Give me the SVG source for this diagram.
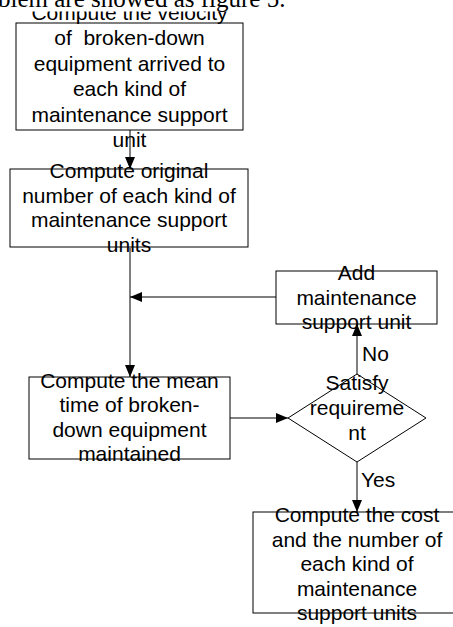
<svg xmlns="http://www.w3.org/2000/svg" width="453" height="627" viewBox="0 0 453 627">
  <style>
    .box { fill: none; stroke: #000; stroke-width: 1; }
    .lbl { font-family: "Liberation Sans", Arial, sans-serif; font-size: 21px; fill: #000; text-anchor: middle; }
    .tag { font-family: "Liberation Sans", Arial, sans-serif; font-size: 21px; fill: #000; }
    .wire { fill: none; stroke: #000; stroke-width: 1; }
    .body { font-family: "Liberation Serif", "Times New Roman", serif; font-size: 25px; fill: #000; }
  </style>
  <defs>
    <marker id="head" markerUnits="userSpaceOnUse" markerWidth="12" markerHeight="10" refX="12" refY="5" orient="auto">
      <path d="M0,0 L12,5 L0,10 z" fill="#000"/>
    </marker>
  </defs>
  <rect width="453" height="627" fill="#fff"/>

  <!-- connectors -->
  <g id="connectors">
    <line class="wire" x1="130" y1="130" x2="130" y2="169" marker-end="url(#head)"/>
    <line class="wire" x1="130" y1="248" x2="130" y2="377" marker-end="url(#head)"/>
    <line class="wire" x1="276" y1="297" x2="130" y2="297" marker-end="url(#head)"/>
    <line class="wire" x1="230" y1="418" x2="288" y2="418" marker-end="url(#head)"/>
    <line class="wire" x1="357" y1="374" x2="357" y2="324" marker-end="url(#head)"/>
    <line class="wire" x1="357" y1="462" x2="357" y2="512" marker-end="url(#head)"/>
    <text class="tag" x="362" y="361">No</text>
    <text class="tag" x="361" y="487">Yes</text>
  </g>

  <g id="velocity">
    <rect class="box" x="16" y="23" width="227" height="107"/>
    <text class="lbl" x="129.5" y="19.5">Compute the velocity</text>
    <text class="lbl" x="129.5" y="45" style="white-space:pre">of  broken-down</text>
    <text class="lbl" x="129.5" y="70.5">equipment arrived to</text>
    <text class="lbl" x="129.5" y="96">each kind of</text>
    <text class="lbl" x="129.5" y="121.5">maintenance support</text>
    <text class="lbl" x="129.5" y="147">unit</text>
  </g>

  <g id="original">
    <rect class="box" x="10" y="169" width="238" height="78"/>
    <text class="lbl" x="129" y="178">Compute original</text>
    <text class="lbl" x="129" y="202.5">number of each kind of</text>
    <text class="lbl" x="129" y="227">maintenance support</text>
    <text class="lbl" x="129" y="251.5">units</text>
  </g>

  <g id="mean-time">
    <rect class="box" x="29" y="377" width="201" height="82"/>
    <text class="lbl" x="129.5" y="388">Compute the mean</text>
    <text class="lbl" x="129.5" y="412">time of broken-</text>
    <text class="lbl" x="129.5" y="436.5">down equipment</text>
    <text class="lbl" x="129.5" y="460.5">maintained</text>
  </g>

  <g id="add-unit">
    <rect class="box" x="276" y="271" width="161" height="53"/>
    <text class="lbl" x="356.5" y="280">Add</text>
    <text class="lbl" x="356.5" y="304.5">maintenance</text>
    <text class="lbl" x="356.5" y="328.5">support unit</text>
  </g>

  <g id="satisfy">
    <polygon class="box" points="357,374 426,418 357,462 288,418"/>
    <text class="lbl" x="357" y="390">Satisfy</text>
    <text class="lbl" x="357" y="415">requireme</text>
    <text class="lbl" x="357" y="440">nt</text>
  </g>

  <g id="cost">
    <rect class="box" x="253" y="512" width="208" height="101"/>
    <text class="lbl" x="357" y="522">Compute the cost</text>
    <text class="lbl" x="357" y="546.5">and the number of</text>
    <text class="lbl" x="357" y="571">each kind of</text>
    <text class="lbl" x="357" y="595.5">maintenance</text>
    <text class="lbl" x="357" y="620">support units</text>
  </g>

  <!-- page text band above the figure -->
  <rect x="0" y="0" width="453" height="11.5" fill="#fff"/>
  <text class="body" x="-2" y="7">blem are showed as figure 5.</text>
</svg>
